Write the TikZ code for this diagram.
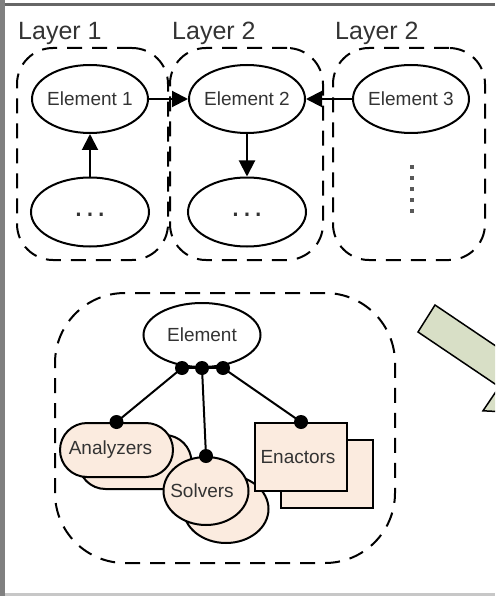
\documentclass[tikz,border=0pt]{standalone}
\usepackage{fontspec}
\setmainfont{Liberation Sans}
\usetikzlibrary{arrows.meta,shapes.geometric}

\definecolor{txtgray}{HTML}{333333}
\definecolor{peach}{HTML}{FBEBDF}
\definecolor{sage}{HTML}{D8DFC6}

% label whose width does not enlarge its node
\newcommand\nowidth[1]{\makebox[0pt]{#1}}
% lowered row of three dots
\newcommand\moredots{\raisebox{-8pt}{\fontsize{32}{32}\selectfont .\kern2.5pt.\kern2.5pt.}}

\begin{document}
\begin{tikzpicture}[x=1pt,y=-1pt,
  lbl/.style={font=\fontsize{19}{22}\selectfont, text=txtgray},
  layerlbl/.style={font=\fontsize{25}{28}\selectfont, text=txtgray, inner sep=0pt, anchor=base west},
  elem/.style={ellipse, draw, line width=2pt, minimum width=116pt, minimum height=68pt, inner sep=0pt, lbl},
  groupbox/.style={draw, line width=2pt, dash pattern=on 15pt off 10pt, rounded corners=36pt, inner sep=0pt},
  arr/.style={line width=2pt, -{Triangle[length=16pt,width=16pt]}},
  part/.style={draw, line width=2pt, fill=peach, inner sep=0pt, lbl},
  link/.style={line width=2pt},
  dotr/.style={fill=black}
]
\useasboundingbox (0,0) rectangle (495,596);

% window frame
\fill[black!50] (0,0) rectangle (4.5,596);
\fill[black!60] (4.5,3.3) rectangle (495,6.5);
\fill[black!22] (4.5,593) rectangle (495,595.5);

% ---------- layers ----------
\node[layerlbl] (t1) at (18,40) {Layer 1};
\node[layerlbl] (t2) at (172,40) {Layer 2};
\node[layerlbl] (t3) at (335,40) {Layer 2};

\node[groupbox, minimum width=151pt, minimum height=212pt] (lay1) at (92.5,154) {};
\node[groupbox, minimum width=153pt, minimum height=212pt] (lay2) at (246.5,154) {};
\node[groupbox, minimum width=152pt, minimum height=212pt] (lay3) at (409,154) {};

\node[elem] (e1) at (90,99) {\nowidth{Element 1}};
\node[elem] (e2) at (247,99) {\nowidth{Element 2}};
\node[elem] (e3) at (411,99) {\nowidth{Element 3}};
\node[elem, minimum width=118pt, minimum height=69pt] (d1) at (90,212) {\nowidth{\moredots}};
\node[elem, minimum width=118pt, minimum height=69pt] (d2) at (247,212) {\nowidth{\moredots}};

% vertical ellipsis in the third layer
\foreach \k in {0,...,4}
  \fill[black!65] (409.8,164.8+11*\k) rectangle ++(4.4,4.4);

\draw[arr] (e1) -- (e2);
\draw[arr] (e3) -- (e2);
\draw[arr] (d1) -- (e1);
\draw[arr] (e2) -- (d2);

% ---------- element internals ----------
\node[groupbox, rounded corners=70pt, minimum width=340pt, minimum height=270pt] (grp) at (225,428) {};

\node[elem, minimum width=117pt, minimum height=64pt] (el) at (202,335) {Element};

\node[part, rounded corners=27pt, minimum width=113pt, minimum height=54pt] (an2) at (135,462) {};
\node[part, rounded corners=27pt, minimum width=113pt, minimum height=54pt] (an) at (116.5,450) {\nowidth{\hspace*{-12pt}Analyzers}};

\node[part, ellipse, minimum width=85pt, minimum height=68pt] (so2) at (226,509) {};
\node[part, ellipse, minimum width=85pt, minimum height=68pt] (so) at (206,491) {\nowidth{\hspace*{-8pt}Solvers}};

\node[part, rectangle, minimum width=92pt, minimum height=68pt] (en2) at (327,474) {};
\node[part, rectangle, minimum width=92pt, minimum height=68pt] (en) at (301,457) {\nowidth{\hspace*{-6pt}Enactors}};

\coordinate (p1) at (182,368);
\coordinate (p2) at (202,368);
\coordinate (p3) at (223,368);

\draw[link] (p1) -- (p3);
\draw[link] (p1) -- (an.north);
\draw[link] (p2) -- (so.north);
\draw[link] (p3) -- (en.north);

\foreach \p in {p1,p2,p3,an.north,so.north,en.north}
  \fill[dotr] (\p) circle (7pt);

% ---------- transition arrow ----------
\begin{scope}
  \clip (0,0) rectangle (495,596);
  \draw[fill=sage, line width=1.5pt, line join=miter]
    (435,305) -- (516.2,359.8) -- (532.4,335.8) -- (569.9,415.2)
    -- (483,410.8) -- (499.2,386.8) -- (418,332) -- cycle;
\end{scope}
\end{tikzpicture}
\end{document}
